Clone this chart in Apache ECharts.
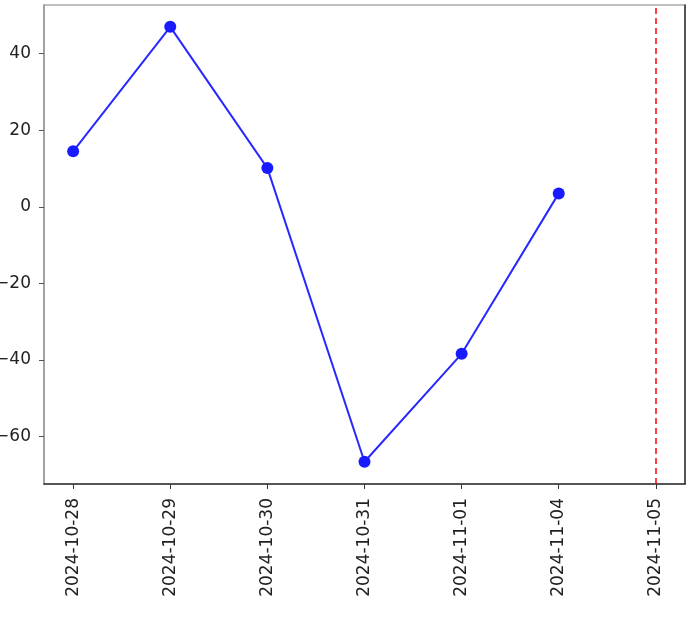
<!DOCTYPE html>
<html>
<head>
<meta charset="utf-8">
<script src="https://cdn.jsdelivr.net/npm/echarts@6/dist/echarts.min.js"></script>
<style>
  html, body { margin: 0; padding: 0; background: #fff; }
  #chart { width: 700px; height: 618px; }
</style>
</head>
<body>
<div id="chart"></div>
<script>
var dates = ["2024-10-28", "2024-10-29", "2024-10-30", "2024-10-31", "2024-11-01", "2024-11-04", "2024-11-05"];
var values = [14.5, 47.0, 10.1, -66.6, -38.4, 3.5];
var yTicks = [-60, -40, -20, 0, 20, 40];
var markIndex = 6; // 2024-11-05

var chart = echarts.init(document.getElementById("chart"));
var tickIdx = dates.map(function (d, i) { return i; });

chart.setOption({
  animation: false,
  grid: {
    left: 44, top: 5, right: 15, bottom: 134,
    outerBoundsMode: "none", containLabel: false,
    show: true, borderColor: "#aaa", borderWidth: 1.5
  },
  xAxis: {
    type: "value",
    min: -0.3,
    max: 6.3,
    splitLine: { show: false },
    axisLine: { onZero: false, lineStyle: { color: "#333", width: 1.5 } },
    axisTick: { customValues: tickIdx, length: 5, lineStyle: { color: "#333" } },
    axisLabel: {
      customValues: tickIdx,
      rotate: 90,
      margin: 14,
      fontFamily: "DejaVu Sans",
      fontSize: 17,
      color: "#222",
      formatter: function (v) { return dates[Math.round(v)]; }
    }
  },
  yAxis: [{
    type: "value",
    min: -72.4,
    max: 52.7,
    splitLine: { show: false },
    axisLine: { show: true, onZero: false, lineStyle: { color: "#999", width: 1.5 } },
    axisTick: { show: true, customValues: yTicks, length: 5, lineStyle: { color: "#555" } },
    axisLabel: {
      customValues: yTicks,
      margin: 13,
      fontFamily: "DejaVu Sans",
      fontSize: 17,
      color: "#222",
      formatter: function (v) { return String(v).replace("-", "\u2212"); }
    }
  }, {
    type: "value",
    position: "right",
    min: -72.4,
    max: 52.7,
    splitLine: { show: false },
    axisLine: { show: true, onZero: false, lineStyle: { color: "#333", width: 1.5 } },
    axisTick: { show: false },
    axisLabel: { show: false }
  }],
  series: [{
    type: "line",
    data: values.map(function (v, i) { return [i, v]; }),
    symbol: "circle",
    symbolSize: 12,
    lineStyle: { color: "#2828ff", width: 2 },
    itemStyle: { color: "#1a1aff" },
    markLine: {
      silent: true,
      symbol: "none",
      label: { show: false },
      lineStyle: { color: "#ff0000", type: [6, 4], width: 1.5 },
      data: [{ xAxis: markIndex }]
    }
  }]
});
</script>
</body>
</html>
